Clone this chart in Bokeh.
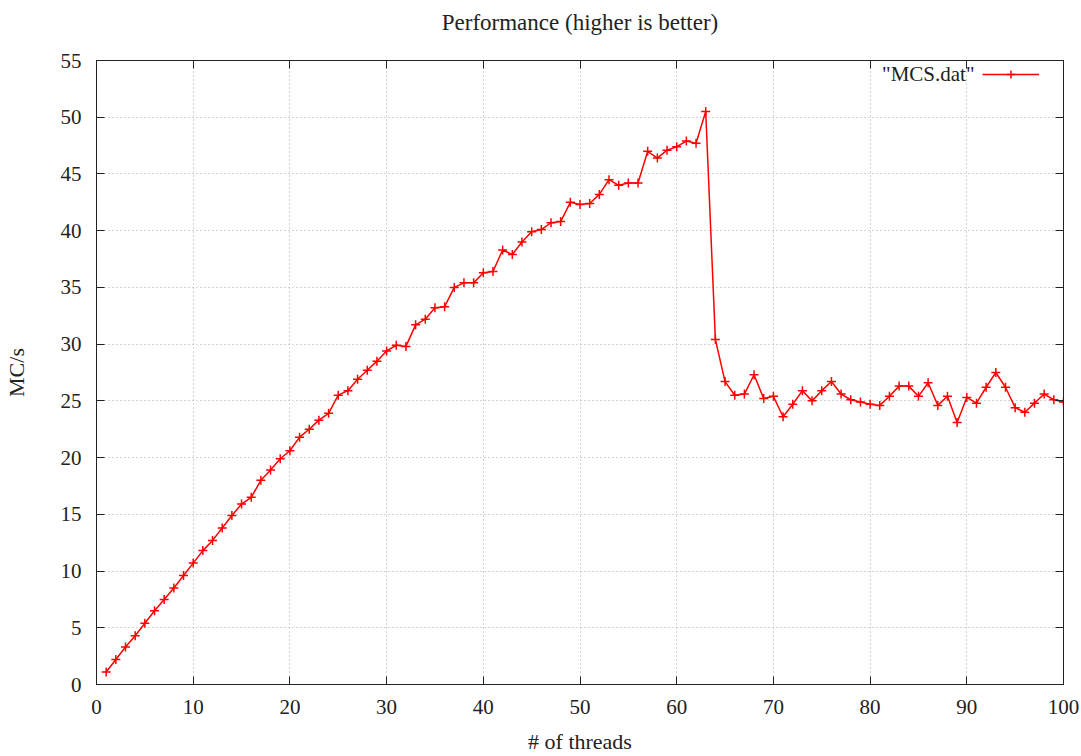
from bokeh.plotting import figure
from bokeh.models import (Range1d, LinearAxis, SingleIntervalTicker, Legend, LegendItem, Label,
                          CustomLabelingPolicy)
from bokeh.embed import file_html
from bokeh.resources import INLINE

threads = list(range(1, 101))
mcs = [1.1, 2.2, 3.3, 4.3, 5.4, 6.5, 7.5, 8.5, 9.6, 10.7,
       11.8, 12.7, 13.8, 14.9, 15.9, 16.5, 18.0, 18.9, 19.9, 20.6,
       21.8, 22.5, 23.3, 23.9, 25.5, 25.9, 26.9, 27.7, 28.5, 29.4,
       29.9, 29.8, 31.7, 32.2, 33.2, 33.3, 35.0, 35.4, 35.4, 36.3,
       36.4, 38.3, 37.9, 39.0, 39.9, 40.1, 40.7, 40.8, 42.5, 42.3,
       42.4, 43.2, 44.5, 44.0, 44.2, 44.2, 47.0, 46.4, 47.1, 47.4,
       47.9, 47.7, 50.5, 30.4, 26.7, 25.5, 25.6, 27.3, 25.2, 25.4,
       23.6, 24.7, 25.9, 25.0, 25.9, 26.7, 25.6, 25.1, 24.9, 24.7,
       24.6, 25.4, 26.3, 26.3, 25.4, 26.6, 24.6, 25.4, 23.1, 25.3,
       24.8, 26.2, 27.5, 26.2, 24.4, 24.0, 24.8, 25.6, 25.1, 24.9]

title_text = "Performance (higher is better)"
x_label = "# of threads"
y_label = "MC/s"
series_name = '"MCS.dat"'

FONT = "Liberation Serif"
TICK_FS = "21px"
LABEL_FS = "22px"
TITLE_FS = "23px"
INK = "#222222"

p = figure(width=1081, height=756, output_backend="svg", toolbar_location=None,
           x_range=Range1d(0, 100), y_range=Range1d(0, 55),
           min_border_left=95, min_border_right=18, min_border_top=60, min_border_bottom=67)

p.outline_line_color = INK
p.outline_line_width = 1

xt = SingleIntervalTicker(interval=10)
yt = SingleIntervalTicker(interval=5)
p.xaxis.ticker = xt
p.yaxis.ticker = yt
p.xaxis.axis_label = x_label
p.yaxis.axis_label = y_label

for ax in [p.xaxis[0], p.yaxis[0]]:
    ax.major_tick_in = 8
    ax.major_tick_out = 0
    ax.minor_tick_in = 0
    ax.minor_tick_out = 0
    ax.axis_line_color = INK
    ax.major_tick_line_color = INK
    ax.major_label_text_font = FONT
    ax.major_label_text_font_size = TICK_FS
    ax.major_label_text_color = INK
    ax.axis_label_text_font = FONT
    ax.axis_label_text_font_size = LABEL_FS
    ax.axis_label_text_font_style = "normal"
    ax.axis_label_text_color = INK

p.xaxis.major_label_standoff = 15
p.xaxis.axis_label_standoff = 12
p.yaxis.major_label_standoff = 15
p.yaxis.axis_label_standoff = 29

hide_all = CustomLabelingPolicy(code="return new Set()")
for side, tk, so in [("right", yt, 0), ("above", xt, 16)]:
    ax = LinearAxis(ticker=tk)
    ax.major_tick_in = 8
    ax.major_tick_out = 0
    ax.minor_tick_in = 0
    ax.minor_tick_out = 0
    ax.axis_line_color = INK
    ax.major_tick_line_color = INK
    ax.major_label_policy = hide_all
    ax.major_label_text_font_size = "1px"
    ax.major_label_standoff = so
    p.add_layout(ax, side)

p.title.text = title_text
p.title.align = "center"
p.title.text_font = FONT
p.title.text_font_size = TITLE_FS
p.title.text_font_style = "normal"
p.title.text_color = INK
p.title.standoff = 11

for g in [p.xgrid[0], p.ygrid[0]]:
    g.grid_line_color = "#a8a8a8"
    g.grid_line_dash = "1 3"
    g.grid_line_width = 1

r_line = p.line(threads, mcs, line_color="#ff0000", line_width=1.5)
r_pts = p.scatter(threads, mcs, marker="cross", size=9, line_color="#ff0000", line_width=1.5)

legend = Legend(items=[LegendItem(label=" ", renderers=[r_line, r_pts])],
                location=(886, 600), padding=0, margin=0, spacing=0,
                glyph_width=57, glyph_height=20, label_standoff=0,
                border_line_color=None, background_fill_alpha=0,
                label_text_font_size="4px")
p.add_layout(legend)

p.add_layout(Label(x=878, y=611, x_units="screen", y_units="screen", text=series_name,
                   text_align="right", text_baseline="middle",
                   text_font=FONT, text_font_size=TICK_FS, text_color=INK))

open("out.html", "w").write(file_html(p, INLINE))
